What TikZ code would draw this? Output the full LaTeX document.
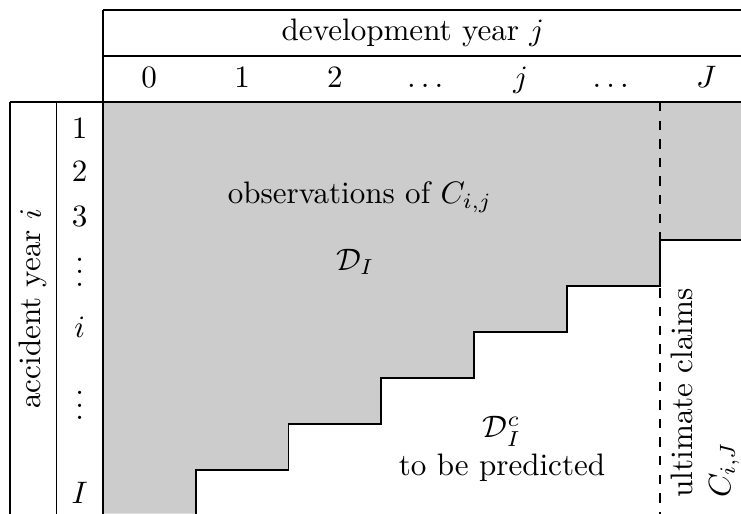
\documentclass[tikz,border=0pt]{standalone}
\usepackage{amsmath, amssymb}
\usepackage{xcolor}
\usepackage{tikz}
\usetikzlibrary{calc, positioning}

\begin{document}
\begin{tikzpicture}[x=1.05cm, y=-0.52cm, semithick,
    collabel/.style={text height=1.5ex, text depth=.25ex}]
    \useasboundingbox (-1.108,-2.217) rectangle (6.875,8.957);

    % Vùng quan sát (màu xám)
    \fill[black!20] (0,0) -- (6.875,0) -- (6.875,3) -- (6,3) -- (6,4) -- (5,4)
        -- (5,5) -- (4,5) -- (4,6) -- (3,6) -- (3,7) -- (2,7) -- (2,8) -- (1,8)
        -- (1,8.957) -- (0,8.957) -- cycle;

    % Đường bậc thang
    \draw (1,8.957) -- (1,8) -- (2,8) -- (2,7) -- (3,7) -- (3,6) -- (4,6)
        -- (4,5) -- (5,5) -- (5,4) -- (6,4) -- (6,3) -- (6.875,3);

    % Khung bảng
    \draw (0,-2) -- (6.875,-2);
    \draw (0,-1) -- (6.875,-1);
    \draw (-1,0) -- (6.875,0);
    \draw (-1,0) -- (-1,8.957);
    \draw (-0.5,0) -- (-0.5,8.957);
    \draw (0,-2) -- (0,8.957);
    \draw[dashed] (6,0) -- (6,8.957);

    % Tiêu đề cột
    \node (dev) at (3.34,-1.5) {development year $j$};
    \foreach \lab [count=\c from 0] in {0,1,2,\dots,j,\dots}
        \node[collabel] (col\c) at (\c+0.5,-0.5) {$\lab$};
    \node[collabel] (colJ) at (6.5,-0.5) {$J$};

    % Tiêu đề hàng
    \node (row1) at (-0.25,0.57) {$1$};
    \node (row2) at (-0.25,1.52) {$2$};
    \node (row3) at (-0.25,2.5) {$3$};
    \node (rowdots1) at (-0.25,3.5) {$\vdots$};
    \node (rowi) at (-0.25,4.9) {$i$};
    \node (rowdots2) at (-0.25,6.4) {$\vdots$};
    \node (rowI) at (-0.25,8.5) {$I$};
    \node[rotate=90] (acc) at (-0.75,4.5) {accident year $i$};

    % Nhãn các vùng
    \node (obs) at (2.77,2.07) {observations of $C_{i,j}$};
    \node (DI) at (2.72,3.48) {$\mathcal{D}_I$};
    \node[align=center] (pred) at (4.3,7.55) {$\mathcal{D}_I^c$\\to be predicted};
    \node[rotate=90, align=left, anchor=west] (ult) at (6.49,8.85)
        {ultimate claims\\$C_{i,J}$};
\end{tikzpicture}
\end{document}
